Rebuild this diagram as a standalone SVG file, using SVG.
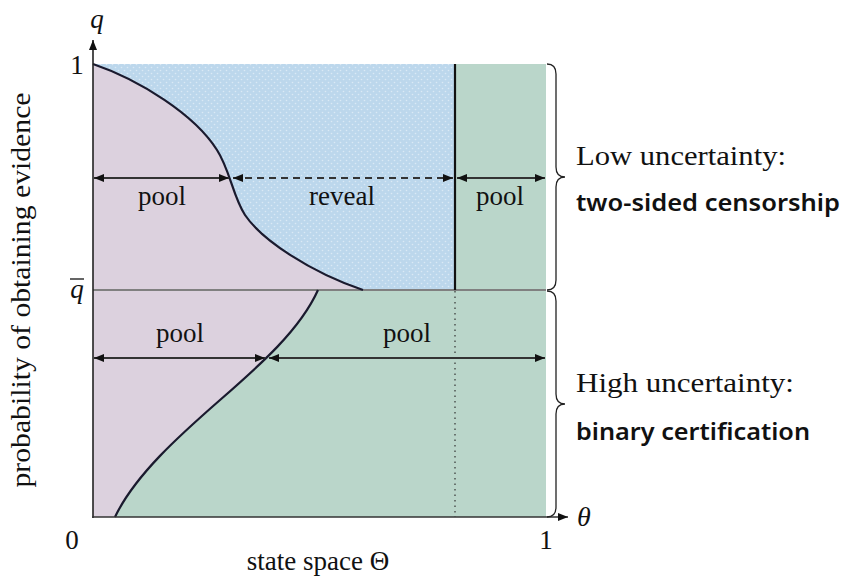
<svg xmlns="http://www.w3.org/2000/svg" width="863" height="578" viewBox="0 0 863 578">
<style>
.t{font-family:"Liberation Serif","DejaVu Serif",serif;fill:#111}
.lbl{font-size:27px}
.b{font-family:"Noto Sans","Open Sans",sans-serif;font-weight:600;font-size:24px;fill:#111}
.it{font-style:italic}
.ar{stroke:#333;stroke-width:1.8;fill:none;marker-start:url(#ah);marker-end:url(#ah)}
.cv{stroke:#1a1a2e;stroke-width:2.2;fill:none}
.br{stroke:#222;stroke-width:1.3;fill:none}
</style>
<defs>
<pattern id="dots" width="6" height="6" patternUnits="userSpaceOnUse">
<rect width="6" height="6" fill="#bcd7ec"/>
<circle cx="1.5" cy="1.5" r="0.8" fill="#fff" fill-opacity="0.45"/>
<circle cx="4.5" cy="4.5" r="0.8" fill="#fff" fill-opacity="0.45"/>
</pattern>
<marker id="ah" viewBox="0 0 10 8" refX="10" refY="4" markerWidth="10" markerHeight="8" markerUnits="userSpaceOnUse" orient="auto-start-reverse">
<path d="M0,0 L10,4 L0,8 Z" fill="#111"/>
</marker>
<marker id="axh" viewBox="0 0 10 8" refX="10" refY="4" markerWidth="10" markerHeight="8" markerUnits="userSpaceOnUse" orient="auto">
<path d="M0,0 L10,4 L0,8 Z" fill="#111"/>
</marker>
</defs>

<g id="regions">
<rect id="pool-region" x="93" y="64" width="453" height="453" fill="#dcd1de"/>
<path id="reveal-region" d="M93,64 C140,80 195,115 217,150 C230,170 233,197 245,215 C262,240 310,272 363,290 L455,290 L455,64 Z" fill="url(#dots)"/>
<rect id="green-top" x="455" y="64" width="91" height="226" fill="#bad6ca"/>
<path id="green-bottom" d="M318,290 C300,330 260,365 220,400 C180,435 135,475 115,517 L546,517 L546,290 Z" fill="#bad6ca"/>
</g>

<g id="boundaries">
<line x1="93" y1="290" x2="546" y2="290" stroke="#808080" stroke-width="2.2"/>
<path class="cv" d="M93,64 C140,80 195,115 217,150 C230,170 233,197 245,215 C262,240 310,272 363,290"/>
<path class="cv" d="M318,290 C300,330 260,365 220,400 C180,435 135,475 115,517"/>
<line x1="455" y1="64" x2="455" y2="290" stroke="#111" stroke-width="2.2"/>
<line x1="455" y1="291" x2="455" y2="517" stroke="#333" stroke-width="1.2" stroke-dasharray="1.5,4"/>
</g>

<g id="axes">
<line x1="93" y1="518" x2="93" y2="40" stroke="#222" stroke-width="1.6" marker-end="url(#axh)"/>
<line x1="92" y1="517" x2="568" y2="517" stroke="#333" stroke-width="1.6" marker-end="url(#axh)"/>
<text class="t it" x="97" y="28" font-size="27" text-anchor="middle">q</text>
<text class="t" x="77" y="74" font-size="27" text-anchor="middle">1</text>
<text class="t it" x="77" y="298" font-size="27" text-anchor="middle">q</text>
<line x1="70" y1="279" x2="84" y2="279" stroke="#111" stroke-width="1.3"/>
<text class="t" x="72" y="549" font-size="27" text-anchor="middle">0</text>
<text class="t" x="546" y="549" font-size="27" text-anchor="middle">1</text>
<text class="t it" x="584" y="526" font-size="28" text-anchor="middle">θ</text>
<text class="t lbl" x="318" y="570" text-anchor="middle">state space Θ</text>
<text class="t lbl" transform="translate(30,290) rotate(-90)" text-anchor="middle" textLength="395" lengthAdjust="spacingAndGlyphs">probability of obtaining evidence</text>
</g>

<g id="connectors">
<line class="ar" x1="94" y1="178" x2="229" y2="178"/>
<line class="ar" x1="233" y1="178" x2="453" y2="178" stroke-dasharray="7,5"/>
<line class="ar" x1="457" y1="178" x2="545" y2="178"/>
<line class="ar" x1="94" y1="358" x2="265" y2="358"/>
<line class="ar" x1="269" y1="358" x2="545" y2="358"/>
</g>

<g id="labels">
<text class="t lbl" x="162" y="205" text-anchor="middle">pool</text>
<text class="t lbl" x="342" y="205" text-anchor="middle">reveal</text>
<text class="t lbl" x="500" y="205" text-anchor="middle">pool</text>
<text class="t lbl" x="180" y="342" text-anchor="middle">pool</text>
<text class="t lbl" x="407" y="342" text-anchor="middle">pool</text>
</g>

<g id="brace-low">
<path class="br" d="M547,64 Q556,64 556,74 L556,167 Q556,177 565,177 Q556,177 556,187 L556,280 Q556,290 547,290"/>
<text class="t lbl" x="576" y="165" textLength="210" lengthAdjust="spacingAndGlyphs">Low uncertainty:</text>
<text class="b" x="576" y="211" textLength="264" lengthAdjust="spacingAndGlyphs">two-sided censorship</text>
</g>

<g id="brace-high">
<path class="br" d="M547,291 Q556,291 556,301 L556,394 Q556,404 565,404 Q556,404 556,414 L556,507 Q556,517 547,517"/>
<text class="t lbl" x="576" y="392" textLength="218" lengthAdjust="spacingAndGlyphs">High uncertainty:</text>
<text class="b" x="576" y="440" textLength="234" lengthAdjust="spacingAndGlyphs">binary certification</text>
</g>
</svg>
